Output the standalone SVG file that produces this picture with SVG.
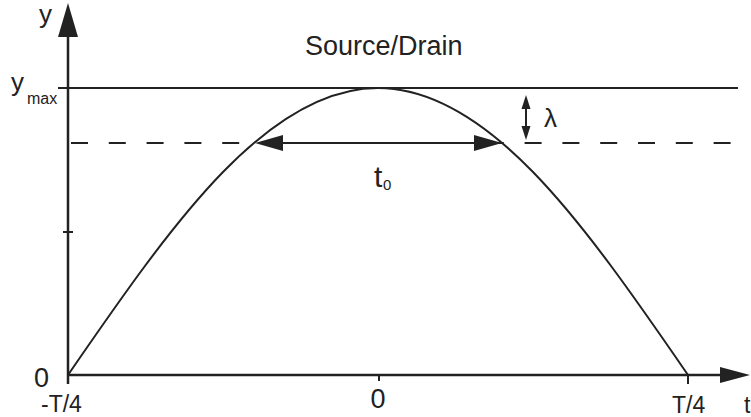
<svg xmlns="http://www.w3.org/2000/svg" width="751" height="417" viewBox="0 0 751 417">
  <style>
    .ln { stroke:#222; stroke-width:2; fill:none; }
    .ax { stroke:#222; stroke-width:2.5; fill:none; }
    .hd { fill:#222; stroke:none; }
    text { font-family:"Liberation Sans", Arial, sans-serif; fill:#222; }
  </style>
  <rect width="751" height="417" fill="#fff"/>
  <g id="axes">
    <line class="ax" x1="68" y1="384" x2="68" y2="34"/>
    <polygon class="hd" points="68,3 58,37 78,37"/>
    <line class="ax" x1="68" y1="375" x2="722" y2="375"/>
    <polygon class="hd" points="750,375 720,367 720,383"/>
    <line class="ln" x1="63" y1="232" x2="73" y2="232"/>
    <line class="ln" x1="688" y1="375" x2="688" y2="384"/>
    <line class="ln" x1="379" y1="375" x2="379" y2="381"/>
  </g>
  <g id="levels">
    <line class="ln" x1="58" y1="88" x2="738" y2="88"/>
    <line class="ln" x1="71" y1="143" x2="751" y2="143" stroke-dasharray="17 20.8"/>
  </g>
  <g id="curve">
    <path class="ln" d="M68,375 C119.67,299.86 171.33,225.19 223,172.06 C274.67,118.93 326.33,88 378,88 C429.67,88 481.33,118.93 533,172.06 C584.67,225.19 636.33,299.86 688,375"/>
  </g>
  <g id="connectors">
    <line class="ln" x1="280" y1="143" x2="478" y2="143"/>
    <polygon class="hd" points="255,143 283,135 283,151"/>
    <polygon class="hd" points="502,143 474,135 474,151"/>
    <line class="ln" x1="526" y1="105" x2="526" y2="128"/>
    <polygon class="hd" points="526,95 521.5,109 530.5,109"/>
    <polygon class="hd" points="526,140 521.5,126 530.5,126"/>
  </g>
  <g id="labels">
    <text x="39" y="23" font-size="26">y</text>
    <text x="11" y="91" font-size="26">y</text>
    <text x="27" y="104" font-size="16">max</text>
    <text x="305" y="55" font-size="27">Source/Drain</text>
    <text x="544" y="127" font-size="26">λ</text>
    <text x="374" y="187" font-size="30">t</text>
    <text x="383" y="190" font-size="15">0</text>
    <text x="34" y="387" font-size="27">0</text>
    <text x="41" y="412" font-size="23">-T/4</text>
    <text x="378" y="408" font-size="27" text-anchor="middle">0</text>
    <text x="672" y="413" font-size="23">T/4</text>
    <text x="744" y="413" font-size="23">t</text>
  </g>
</svg>
